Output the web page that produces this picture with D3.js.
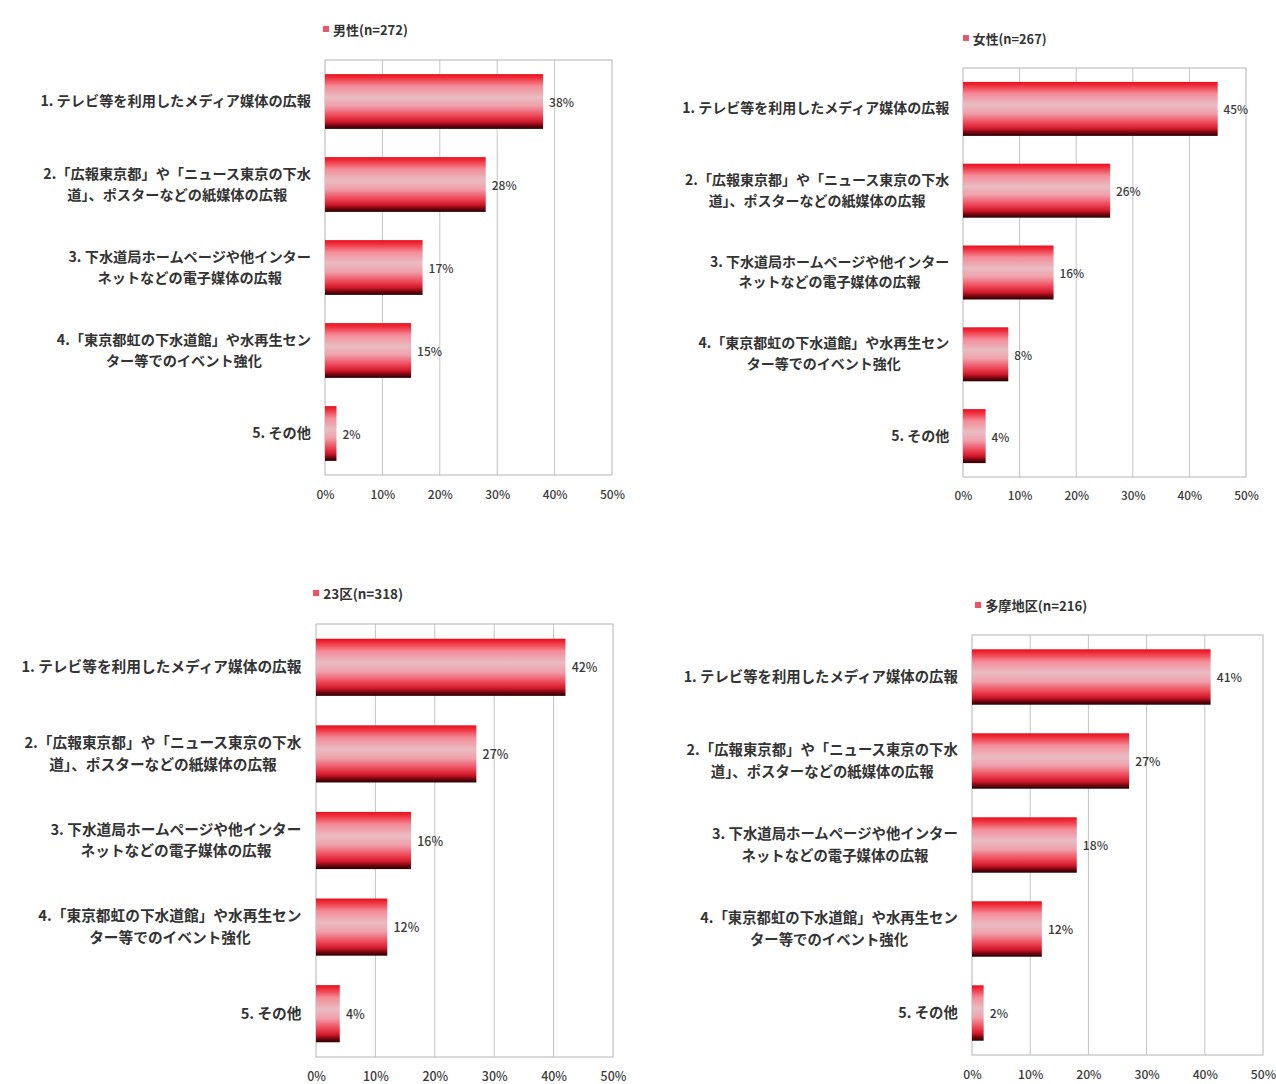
<!DOCTYPE html>
<html lang="ja">
<head>
<meta charset="utf-8">
<script src="https://cdn.jsdelivr.net/npm/d3@7/dist/d3.min.js"></script>
<style>
  html, body { margin: 0; padding: 0; background: #ffffff; }
  svg { display: block; }
  text { font-family: "Noto Sans CJK JP", "Noto Sans", sans-serif; }
</style>
</head>
<body>
<svg id="chart" width="1276" height="1084"></svg>
<script>
// Survey answer categories (each entry is the wrapped label lines)
const categories = [
  ["1. テレビ等を利用したメディア媒体の広報"],
  ["2.「広報東京都」や「ニュース東京の下水", "道」、ポスターなどの紙媒体の広報"],
  ["3. 下水道局ホームページや他インター", "ネットなどの電子媒体の広報"],
  ["4.「東京都虹の下水道館」や水再生セン", "ター等でのイベント強化"],
  ["5. その他"]
];

// Respondent groups
const panelTitles = ["男性(n=272)", "女性(n=267)", "23区(n=318)", "多摩地区(n=216)"];

// Share of respondents (%) per category
const maleValues   = [38, 28, 17, 15, 2];
const femaleValues = [45, 26, 16, 8, 4];
const wardValues   = [42, 27, 16, 12, 4];
const tamaValues   = [41, 27, 18, 12, 2];

// Axis ticks (%)
const tickValues = [0, 10, 20, 30, 40, 50];

const seriesList = [maleValues, femaleValues, wardValues, tamaValues];

// Placement of each of the four small charts on the page
const frames = [
  { x0: 325, x1: 612,  top: 60,  bottom: 475,  lx: 323, ly: 29  },
  { x0: 963, x1: 1246, top: 68,  bottom: 477,  lx: 963, ly: 38  },
  { x0: 316, x1: 613,  top: 624, bottom: 1057, lx: 313, ly: 593 },
  { x0: 972, x1: 1263, top: 635, bottom: 1055, lx: 975, ly: 605 }
];

const svg = d3.select("#chart");

// Glossy red bar fill: red top, pale centre, dark base
const defs = svg.append("defs");
const grad = defs.append("linearGradient")
  .attr("id", "barFill")
  .attr("x1", 0).attr("y1", 0).attr("x2", 0).attr("y2", 1);
[
  [0.00, "#e8101c"],
  [0.07, "#f0303e"],
  [0.22, "#f48c98"],
  [0.42, "#e9bcc2"],
  [0.58, "#f0a0ab"],
  [0.76, "#ee4656"],
  [0.87, "#d0182a"],
  [0.94, "#70060e"],
  [1.00, "#2a0004"]
].forEach(([o, c]) => grad.append("stop").attr("offset", o).attr("stop-color", c));

frames.forEach((f, i) => {
  const values = seriesList[i];
  const s = (f.x1 - f.x0) / 287;            // per-chart size factor
  const g = svg.append("g");

  const x = d3.scaleLinear().domain([0, 50]).range([f.x0, f.x1]);
  const y = d3.scaleBand()
    .domain(d3.range(categories.length))
    .range([f.top, f.bottom])
    .paddingInner(0.34)
    .paddingOuter(0.17);

  // vertical gridlines
  g.append("g")
    .selectAll("line")
    .data(tickValues.slice(1, -1))
    .join("line")
    .attr("x1", d => x(d)).attr("x2", d => x(d))
    .attr("y1", f.top).attr("y2", f.bottom)
    .attr("stroke", "#c4c4c4")
    .attr("stroke-width", 1);

  // plot frame
  g.append("rect")
    .attr("x", f.x0).attr("y", f.top)
    .attr("width", f.x1 - f.x0).attr("height", f.bottom - f.top)
    .attr("fill", "none")
    .attr("stroke", "#b4b4b4")
    .attr("stroke-width", 1);

  // bars
  g.append("g")
    .selectAll("rect")
    .data(values)
    .join("rect")
    .attr("x", x(0))
    .attr("y", (d, k) => y(k))
    .attr("width", d => x(d) - x(0))
    .attr("height", y.bandwidth())
    .attr("fill", "url(#barFill)");

  // value labels
  g.append("g")
    .selectAll("text")
    .data(values)
    .join("text")
    .attr("x", d => x(d) + 6 * s)
    .attr("y", (d, k) => y(k) + y.bandwidth() / 2)
    .attr("dominant-baseline", "central")
    .attr("font-size", 12 * s)
    .attr("font-weight", 500)
    .attr("fill", "#3a3a3a")
    .text(d => d + "%");

  // bottom axis tick labels
  const axis = d3.axisBottom(x)
    .tickValues(tickValues)
    .tickSize(0)
    .tickPadding(15 * s)
    .tickFormat(d => d + "%");
  const ax = g.append("g")
    .attr("transform", `translate(0,${f.bottom})`)
    .call(axis);
  ax.select(".domain").remove();
  ax.selectAll("text")
    .attr("font-size", 12 * s)
    .attr("font-weight", 500)
    .attr("fill", "#3a3a3a")
    .style("font-family", "\"Noto Sans CJK JP\", sans-serif");

  // category labels: block right-aligned to the axis, lines centred in the block
  const fs = 14.2 * s;
  const lineH = 21 * s;
  categories.forEach((lines, k) => {
    const cy = y(k) + y.bandwidth() / 2;
    const lab = g.append("g");
    const texts = lab.selectAll("text")
      .data(lines)
      .join("text")
      .attr("font-size", fs)
      .attr("font-weight", 700)
      .attr("fill", "#333")
      .attr("text-anchor", "middle")
      .attr("dominant-baseline", "central")
      .attr("y", (d, j) => cy + (j - (lines.length - 1) / 2) * lineH - 1.5 * s)
      .text(d => d);
    let maxW = 0;
    texts.each(function () { maxW = Math.max(maxW, this.getComputedTextLength()); });
    texts.attr("x", f.x0 - 14 * s - maxW / 2);
  });

  // legend
  g.append("rect")
    .attr("x", f.lx).attr("y", f.ly - 3 * s)
    .attr("width", 6 * s).attr("height", 6 * s)
    .attr("fill", "#ec5468");
  g.append("text")
    .attr("x", f.lx + 10 * s)
    .attr("y", f.ly)
    .attr("dominant-baseline", "central")
    .attr("font-size", 13 * s)
    .attr("font-weight", 700)
    .attr("fill", "#333")
    .text(panelTitles[i]);
});
</script>
</body>
</html>
